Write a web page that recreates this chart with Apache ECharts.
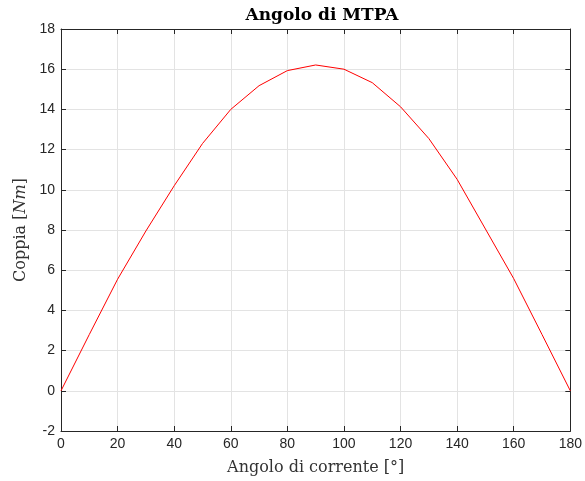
<!DOCTYPE html>
<html>
<head>
<meta charset="utf-8">
<script src="https://cdn.jsdelivr.net/npm/echarts@6/dist/echarts.min.js"></script>
<style>html,body{margin:0;padding:0;background:#fff}#c{width:585px;height:481px}</style>
</head>
<body>
<div id="c"></div>
<script>
var angles = [0,10,20,30,40,50,60,70,80,90,100,110,120,130,140,150,160,170,180];
var torque = [0,2.8,5.55,7.95,10.2,12.3,14.0,15.18,15.93,16.21,16.0,15.33,14.13,12.55,10.52,8.05,5.58,2.8,0];
var xTicks = {min:0, max:180, interval:20};
var yTicks = {min:-2, max:18, interval:2};
var titleText = 'Angolo di MTPA';
var xName = 'Angolo di corrente [°]';

var pts = angles.map(function(a,i){return [a, torque[i]];});
var axisCol = '#262626';
var gridCol = '#e3e3e3';
function axisBase(show){
  return {
    axisLine:{show:true, onZero:false, lineStyle:{color:axisCol, width:1}},
    axisTick:{show:true, inside:true, length:5, lineStyle:{color:axisCol}},
    axisLabel:{show:show, color:axisCol, fontFamily:'Liberation Sans, Arial', fontSize:14},
    splitLine:{show:show, lineStyle:{color:gridCol, width:1}}
  };
}
var chart = echarts.init(document.getElementById('c'), null, {renderer:'canvas'});
var xa = Object.assign(axisBase(true), {type:'value', min:xTicks.min, max:xTicks.max, interval:xTicks.interval, position:'bottom',
  name:xName, nameLocation:'middle', nameGap:29,
  nameTextStyle:{fontFamily:'DejaVu Serif, Liberation Serif, serif', fontSize:16, color:'#333'}});
xa.axisLabel.margin = 6;
var xa2 = Object.assign(axisBase(false), {type:'value', min:xTicks.min, max:xTicks.max, interval:xTicks.interval, position:'top'});
var ya = Object.assign(axisBase(true), {type:'value', min:yTicks.min, max:yTicks.max, interval:yTicks.interval, position:'left',
  name:'{a|Coppia [}{b|Nm}{a|]}', nameLocation:'middle', nameGap:32, nameRotate:90,
  nameTextStyle:{rich:{
    a:{fontFamily:'DejaVu Serif, Liberation Serif, serif', fontSize:16, color:'#333'},
    b:{fontFamily:'DejaVu Serif, Liberation Serif, serif', fontStyle:'italic', fontSize:16, color:'#333'}
  }}});
ya.axisLabel.margin = 6;
var ya2 = Object.assign(axisBase(false), {type:'value', min:yTicks.min, max:yTicks.max, interval:yTicks.interval, position:'right'});

chart.setOption({
  animation:false,
  backgroundColor:'#fff',
  title:{text:titleText, left:317, top:2, textAlign:'center',
    textStyle:{fontFamily:'DejaVu Serif, Liberation Serif, serif', fontWeight:'bold', fontSize:17, color:'#000'}},
  grid:{left:61, right:13, top:29, bottom:49, containLabel:false},
  xAxis:[xa, xa2],
  yAxis:[ya, ya2],
  series:[{type:'line', data:pts, xAxisIndex:0, yAxisIndex:0, showSymbol:false, symbol:'none',
    lineStyle:{color:'#ff0000', width:1}, itemStyle:{color:'#ff0000'}}]
});
</script>
</body>
</html>
